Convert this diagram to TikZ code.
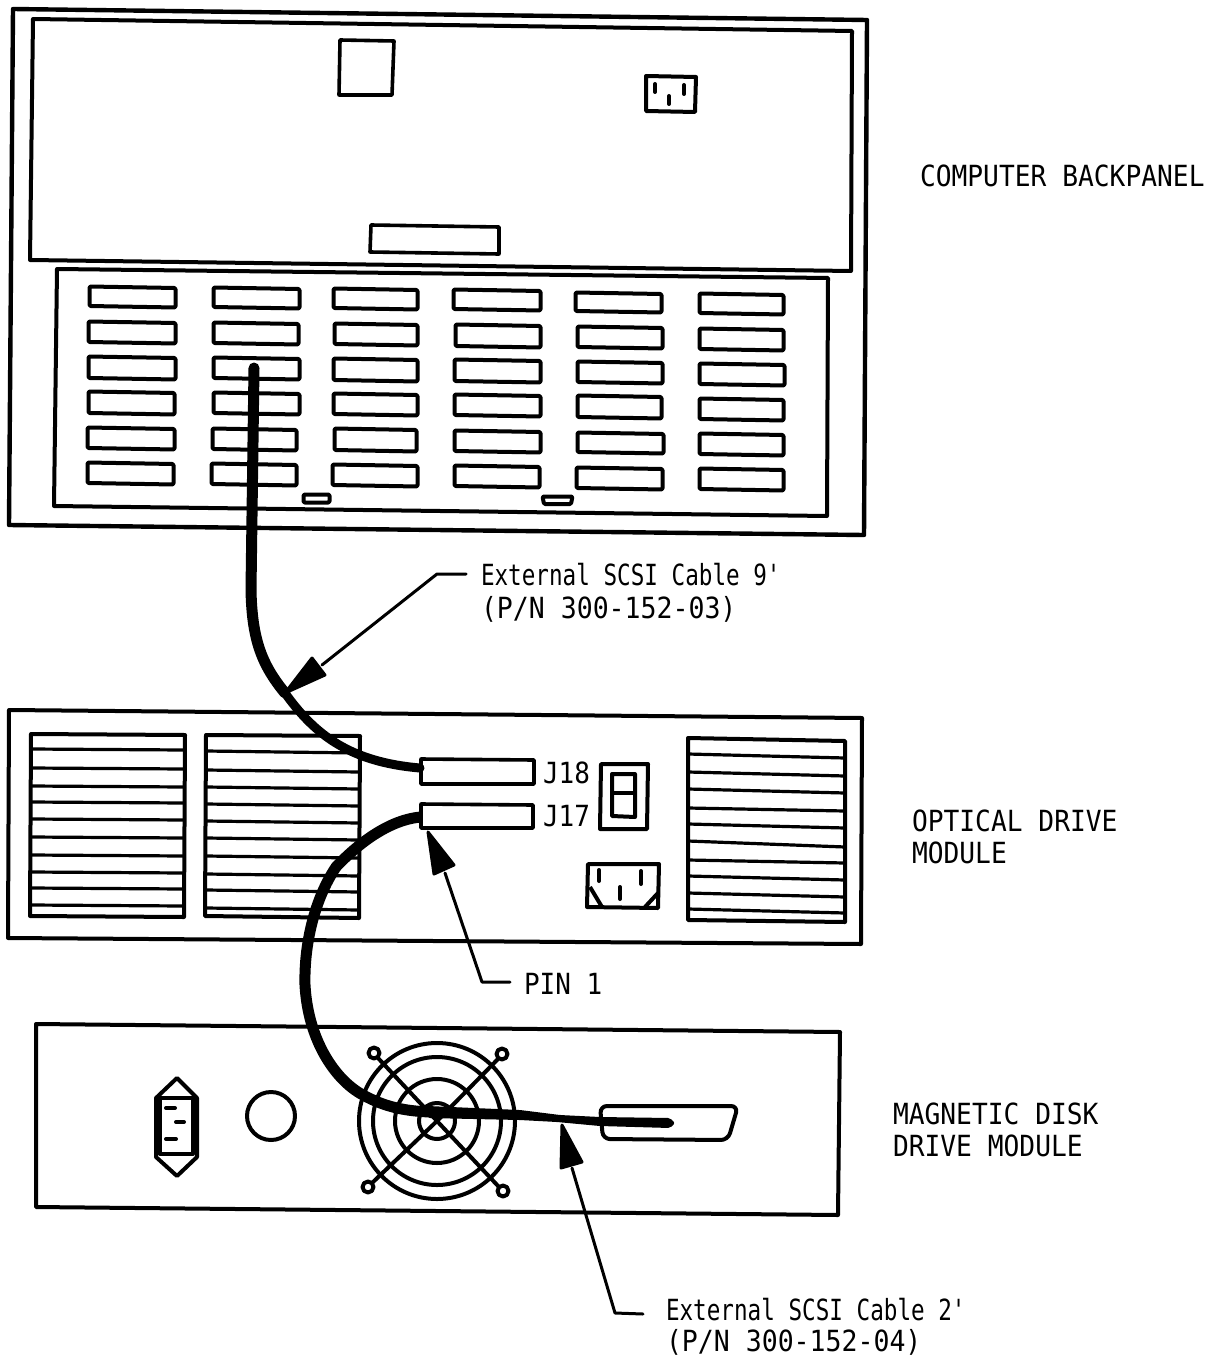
\documentclass[tikz,border=0pt]{standalone}
\usepackage{fontspec}
\setmainfont{DejaVu Sans Mono}[Ligatures=TeXOff]
\newcommand{\lbl}[2]{\scalebox{#1}[1.12]{#2}}
\tikzset{
  panel/.style={draw=black,line width=4pt,line join=round},
  slotbox/.style={draw=black,line width=4pt,line join=round,rounded corners=1.2pt},
  ventbox/.style={draw=black,line width=4pt,line join=round},
  slat/.style={draw=black,line width=3.2pt},
  cable/.style={draw=black,line cap=round,line join=round},
  leader/.style={draw=black,line width=3pt,line cap=round,line join=round},
  head/.style={fill=black,draw=black,line width=3pt,line join=round},
  pinmark/.style={draw=black,line width=4pt,line cap=round},
  tag/.style={anchor=base west,inner sep=0pt,outer sep=0pt,font=\fontsize{26}{30}\selectfont,text=black}
}
\begin{document}
\begin{tikzpicture}[x=1pt,y=-1pt]
\useasboundingbox[fill=white] (0,0) rectangle (1223,1359);
% computer backpanel
\draw[panel,line width=4.4pt] (13,9) -- (867,20) -- (864,535) -- (9,525) -- cycle;
\draw[panel] (33,19) -- (852,31) -- (851,271) -- (30,260) -- cycle;
\draw[panel] (57,269) -- (828,278) -- (827,516) -- (54,506) -- cycle;
\draw[panel,line width=3.6pt] (340,40) -- (394,41) -- (392,95) -- (339,95) -- cycle;
\draw[panel] (646,76) -- (696,77) -- (695,112) -- (646,111) -- cycle;
\foreach \x/\a/\b in {655/84/92,684/85/94,669/96/104}
  \draw[pinmark] (\x,\a) -- (\x,\b);
\draw[panel,line width=3.6pt] (371,225) -- (499,227) -- (499,254) -- (370,252) -- cycle;
\foreach \a/\b/\c/\d in {
 88/285/177/309,87/320/177/345,87/355/177/381,87/390/176/416,86/426/176/451,86/461/175/486,
 212/286/301/310,212/321/300/346,212/356/301/381,212/391/301/416,211/427/298/452,210/462/298/487,
 332/287/419/311,333/322/419/347,332/357/419/383,332/392/419/417,333/427/418/453,331/463/419/488,
 452/288/542/312,454/323/542/349,453/358/542/384,453/393/542/418,453/429/542/454,453/464/541/489,
 574/291/663/314,576/325/664/350,576/360/664/385,576/394/663/420,576/431/665/455,575/466/664/491,
 698/292/785/316,698/327/785/352,698/362/786/387,698/397/785/422,698/432/785/457,698/467/785/492}
  \draw[slotbox] (\a+1.5,\b+1.5) -- (\c-1.5,\b+3) -- (\c-1.5,\d-1.5) -- (\a+1.5,\d-3) -- cycle;
\draw[slotbox] (303.5,494.5) rectangle (329.5,502.5);
\draw[slotbox] (542.5,496.5) -- (572.5,496.5) -- (571,504) -- (544,504) -- cycle;
% optical drive module
\draw[panel] (9,710) -- (862,718) -- (861,944) -- (8,938) -- cycle;
\draw[ventbox] (31,734) -- (185,735) -- (184,917) -- (30,916) -- cycle;
\foreach \y in {749,768,786,802,819,837,855,872,888,905}
  \draw[slat] (31,\y) -- (184,\y+1);
\draw[ventbox] (206,735) -- (360,736) -- (359,918) -- (205,916) -- cycle;
\foreach \y in {751,770,787,804,821,838,856,874,890,908}
  \draw[slat] (206,\y) -- (359,\y+2);
\draw[ventbox] (688,738) -- (845,741) -- (845,922) -- (688,920) -- cycle;
\foreach \a/\b in {754/758,772/776,789/793,808/811,824/828,841/847,860/863,876/880,893/897,909/913}
  \draw[slat] (688,\a) -- (845,\b);
\draw[panel,line width=3.6pt] (421,759) -- (534,760) -- (534,784) -- (421,784) -- cycle;
\draw[panel,line width=3.6pt] (421,804) -- (533,805) -- (533,828) -- (421,828) -- cycle;
\draw[panel] (601,764) -- (648,764) -- (647,829) -- (600,829) -- cycle;
\draw[panel] (612,774) -- (635,774) -- (635,817) -- (612,816) -- cycle;
\draw[panel] (612,793) -- (635,793);
\draw[panel] (588,864) -- (659,864) -- (658,908) -- (587,907) -- cycle;
\draw[panel] (590,887) -- (602,907);
\draw[panel] (658,893) -- (645,907);
\foreach \x/\a/\b in {599/870/881,641/871/884,620/887/899}
  \draw[pinmark] (\x,\a) -- (\x,\b);
% magnetic disk drive module
\draw[panel] (36,1024) -- (840,1032) -- (838,1215) -- (36,1207) -- cycle;
\draw[panel] (177,1078) -- (197,1098) -- (197,1157) -- (177,1176) -- (156,1157) -- (156,1098) -- cycle;
\draw[panel] (160,1098) -- (193,1098) -- (193,1154) -- (160,1154) -- cycle;
\draw[panel,line width=5pt] (159,1098) -- (159,1155);
\draw[pinmark] (166,1108) -- (175,1108);
\draw[pinmark] (176,1122) -- (184,1122);
\draw[pinmark] (166,1139) -- (176,1139);
\draw[panel] (271,1116) circle (24);
\draw[panel] (437,1121) circle (78);
\draw[panel] (437,1121) circle (64);
\draw[panel] (437,1121) circle (42);
\draw[panel] (437,1121) circle (18);
\draw[panel] (378,1058) -- (437,1121) -- (498,1059);
\draw[panel] (372,1183) -- (437,1121) -- (499,1187);
\foreach \x/\y in {374/1053,502/1054,368/1187,503/1191}
  \draw[panel,fill=white] (\x,\y) circle (5.5);
\draw[panel,rounded corners=7pt] (600,1106) -- (738,1106) -- (728,1140) -- (603,1139) -- cycle;
% named ends
\coordinate (c1a) at (254,368);
\coordinate (c1b) at (420,768);
\coordinate (c2a) at (421,817);
\coordinate (c2b) at (430,1112);
\coordinate (tipA) at (285,693);
\coordinate (tipB) at (428,832);
\coordinate (tipC) at (562,1125);
% cables
\draw[cable,line width=11pt] (c1a) -- (251,590) .. controls (252,640) and (262,665) .. (285,693);
\draw[cable,line width=9pt] (285,693) .. controls (315,735) and (350,762) .. (c1b);
\draw[cable,line width=11pt,line cap=butt] (c2a) .. controls (385,820) and (352,850) .. (336,867)
  .. controls (314,900) and (304,945) .. (305,985)
  .. controls (308,1040) and (335,1080) .. (363,1095)
  .. controls (385,1107) and (405,1111) .. (c2b);
\fill[black,rounded corners=2pt] (428,1106) -- (520,1110) -- (560,1115) -- (600,1117) -- (670,1118)
  -- (675,1123) -- (670,1128) -- (600,1126) -- (557,1122) -- (520,1120) -- (428,1118) -- cycle;
% labels
\node[tag] (backpanel) at (920,186) {\lbl{1.01}{COMPUTER BACKPANEL}};
\node[tag] (opt1) at (912,831) {\lbl{1.01}{OPTICAL DRIVE}};
\node[tag] (opt2) at (912,863) {\lbl{1.01}{MODULE}};
\node[tag] (mag1) at (893,1124) {\lbl{1.01}{MAGNETIC DISK}};
\node[tag] (mag2) at (893,1156) {\lbl{1.01}{DRIVE MODULE}};
\node[tag] (cabA) at (481,585) {\lbl{0.87}{External SCSI Cable 9'}};
\node[tag] (pnA) at (481,618) {\lbl{1.02}{(P/N 300-152-03)}};
\node[tag] (cabB) at (666,1320) {\lbl{0.87}{External SCSI Cable 2'}};
\node[tag] (pnB) at (666,1351) {\lbl{1.02}{(P/N 300-152-04)}};
\node[tag] (pin) at (524,994) {\lbl{1}{PIN 1}};
\node[tag] (jA) at (543,783) {\lbl{1}{J18}};
\node[tag] (jB) at (543,826) {\lbl{1}{J17}};
% leaders
\coordinate (lA) at (466,574);
\coordinate (lB) at (510,982);
\coordinate (lC) at (643,1314);
\draw[leader] (lA) -- (437,574) -- (322,665);
\draw[head] (tipA) -- (312,658) -- (325,675) -- cycle;
\draw[leader] (lB) -- (482,982) -- (445,873);
\draw[head] (tipB) -- (434,874) -- (454,865) -- cycle;
\draw[leader] (lC) -- (615,1313) -- (572,1168);
\draw[head] (tipC) -- (561,1168) -- (582,1162) -- cycle;
\end{tikzpicture}
\end{document}
